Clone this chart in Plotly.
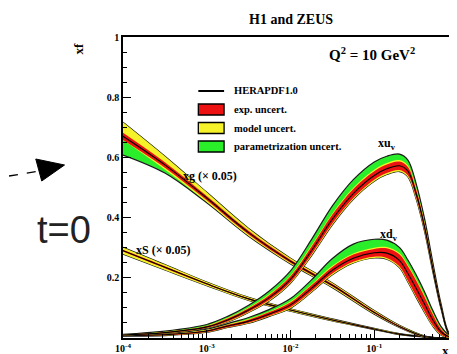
import plotly.graph_objects as go

W, H = 457, 354
L, R, T, B = 115, 4, 29, 24
PW, PH = W - L - R, H - T - B

# ---------------- data ----------------
lx_g = [-4, -3.5, -3, -2.5, -2, -1.5, -1, -0.7, -0.4, -0.2, 0]
xg = [0.67, 0.575, 0.465, 0.35, 0.255, 0.175, 0.085, 0.038, 0.005, 0, 0]
g_exp = [0.012, 0.009, 0.007, 0.006, 0.005, 0.004, 0.003, 0.002, 0.001, 0, 0]
g_mod_up = [0.035, 0.02, 0.012, 0.008, 0.005, 0.004, 0.003, 0.002, 0.001, 0, 0]
g_mod_dn = [0.0, 0.006, 0.006, 0.005, 0.003, 0.003, 0.002, 0.001, 0.001, 0, 0]
g_par_up = [0, 0, 0, 0, 0, 0, 0, 0, 0, 0, 0]
g_par_dn = [0.05, 0.012, 0.003, 0.001, 0.001, 0.001, 0.001, 0, 0, 0, 0]

lx_s = [-4, -3.5, -3, -2.5, -2, -1.5, -1, -0.7, -0.4, -0.2, 0]
xs = [0.29, 0.235, 0.18, 0.13, 0.093, 0.06, 0.03, 0.013, 0.004, 0, 0]
s_exp = [0.003, 0.003, 0.002, 0.002, 0.002, 0.0015, 0.001, 0.001, 0.0005, 0, 0]
s_mod = [0.008, 0.006, 0.004, 0.003, 0.002, 0.002, 0.001, 0.001, 0, 0, 0]
s_par = [0, 0, 0, 0, 0, 0, 0, 0, 0, 0, 0]

lx_v = [-4, -3.5, -3, -2.75, -2.5, -2.25, -2, -1.75, -1.5, -1.25, -1,
        -0.85, -0.7, -0.6, -0.5, -0.4, -0.3, -0.2, -0.1, 0]
xuv = [0.01, 0.018, 0.037, 0.06, 0.093, 0.135, 0.195, 0.29, 0.395, 0.48, 0.54,
       0.562, 0.572, 0.555, 0.48, 0.37, 0.23, 0.1, 0.01, 0]
u_exp = [0.001, 0.002, 0.003, 0.005, 0.006, 0.008, 0.01, 0.013, 0.015, 0.015, 0.014,
         0.014, 0.014, 0.014, 0.013, 0.011, 0.008, 0.004, 0.001, 0]
u_mod = [0.0005, 0.001, 0.001, 0.002, 0.002, 0.003, 0.003, 0.004, 0.004, 0.004, 0.005,
         0.005, 0.005, 0.005, 0.005, 0.004, 0.003, 0.002, 0.001, 0]
u_par = [0.001, 0.002, 0.004, 0.005, 0.008, 0.011, 0.015, 0.02, 0.025, 0.027, 0.026,
         0.023, 0.02, 0.018, 0.015, 0.012, 0.009, 0.005, 0.002, 0]

xdv = [0.008, 0.011, 0.023, 0.04, 0.056, 0.08, 0.11, 0.165, 0.225, 0.265, 0.283,
       0.282, 0.258, 0.215, 0.165, 0.113, 0.06, 0.02, 0.003, 0]
d_exp = [0.001, 0.002, 0.003, 0.004, 0.005, 0.006, 0.008, 0.01, 0.011, 0.012, 0.013,
         0.016, 0.02, 0.024, 0.026, 0.024, 0.018, 0.009, 0.002, 0]
d_mod = [0.0005, 0.001, 0.001, 0.001, 0.002, 0.002, 0.003, 0.003, 0.004, 0.004, 0.004,
         0.004, 0.004, 0.004, 0.004, 0.004, 0.003, 0.002, 0.001, 0]
d_par = [0.001, 0.001, 0.002, 0.003, 0.005, 0.007, 0.01, 0.015, 0.024, 0.031, 0.028,
         0.023, 0.019, 0.017, 0.015, 0.013, 0.01, 0.006, 0.002, 0]

x_tickvals = [1e-4, 1e-3, 1e-2, 1e-1, 1]
x_ticktext = ["10<sup>-4</sup>", "10<sup>-3</sup>", "10<sup>-2</sup>", "10<sup>-1</sup>", "1"]
y_tickvals = [0.2, 0.4, 0.6, 0.8, 1]
y_ticktext = ["0.2", "0.4", "0.6", "0.8", "1"]

legend_labels = ["HERAPDF1.0", "exp. uncert.", "model uncert.", "parametrization uncert."]

RED = "#ee1111"
YEL = "#f6f22a"
GRN = "#2bee2b"
SERIF = "Liberation Serif"

fig = go.Figure()


def pair(xv, lo, hi, color, outline):
    lw = 1.2 if outline else 0
    lc = "#1a1a1a" if outline else color
    fig.add_trace(go.Scatter(x=xv, y=lo, mode="lines",
                             line=dict(color=lc, width=lw, shape="spline"),
                             hoverinfo="skip", showlegend=False))
    fig.add_trace(go.Scatter(x=xv, y=hi, mode="lines", fill="tonexty", fillcolor=color,
                             line=dict(color=lc, width=lw, shape="spline"),
                             hoverinfo="skip", showlegend=False))


def pdf(lx, c, e, mu, md, pu, pd):
    xv = [10 ** v for v in lx]
    r_lo = [a - b for a, b in zip(c, e)]
    r_hi = [a + b for a, b in zip(c, e)]
    y_lo = [a - b for a, b in zip(r_lo, md)]
    y_hi = [a + b for a, b in zip(r_hi, mu)]
    g_lo = [a - b for a, b in zip(y_lo, pd)]
    g_hi = [a + b for a, b in zip(y_hi, pu)]
    pair(xv, g_lo, g_hi, GRN, True)
    pair(xv, y_lo, y_hi, YEL, False)
    pair(xv, r_lo, r_hi, RED, False)
    fig.add_trace(go.Scatter(x=xv, y=c, mode="lines",
                             line=dict(color="black", width=1.1, shape="spline"),
                             hoverinfo="skip", showlegend=False))


zeros_v = [0] * len(lx_v)
pdf(lx_s, xs, s_exp, s_mod, s_mod, s_par, s_par)
pdf(lx_g, xg, g_exp, g_mod_up, g_mod_dn, g_par_up, g_par_dn)
pdf(lx_v, xdv, d_exp, d_mod, d_mod, d_par, zeros_v)
pdf(lx_v, xuv, u_exp, u_mod, u_mod, u_par, zeros_v)


def px(xp):
    return (xp - L) / PW


def py(yp):
    return (H - B - yp) / PH


ann = []


def text(t, xp, yp, size, xanchor="center", family=SERIF, bold=True, color="black", angle=0):
    ann.append(dict(text=t, x=px(xp), y=py(yp), xref="paper", yref="paper",
                    xanchor=xanchor, yanchor="middle", showarrow=False, textangle=angle,
                    font=dict(family=family, size=size, color=color,
                              weight="bold" if bold else "normal")))


text("H1 and ZEUS", 284, 12, 14)
text("Q<sup>2</sup> = 10 GeV<sup>2</sup>", 366, 46, 15)
text("xf", 70, 40, 13, angle=-90)
text("x", 440, 342, 13)
text("xg (× 0.05)", 203, 168, 12)
text("xS (× 0.05)", 156, 242, 12)
text("xu<sub>v</sub>", 381, 136, 12)
text("xd<sub>v</sub>", 383, 227, 12)
text("t=0", 55, 222, 38, family="Liberation Sans", bold=False, color="#222222")

shapes = []
rows = [83, 101.5, 120, 138.5]
fills = [None, RED, YEL, GRN]
for lab, yr, fc in zip(legend_labels, rows, fills):
    if fc is None:
        shapes.append(dict(type="line", xref="paper", yref="paper", x0=px(191), x1=px(217),
                           y0=py(yr), y1=py(yr), line=dict(color="black", width=2)))
    else:
        shapes.append(dict(type="rect", xref="paper", yref="paper", x0=px(191), x1=px(217),
                           y0=py(yr - 5.5), y1=py(yr + 5.5), fillcolor=fc,
                           line=dict(color="black", width=1.3)))
    text(lab, 225, yr, 10.5, xanchor="left")

# arrow pointing at the plot
shapes.append(dict(type="line", xref="paper", yref="paper", x0=px(0), y0=py(168),
                   x1=px(31), y1=py(163), line=dict(color="black", width=1.3, dash="dash")))
shapes.append(dict(type="path", xref="paper", yref="paper",
                   path=f"M {px(56)} {py(157)} L {px(27)} {py(151)} L {px(33)} {py(173)} Z",
                   fillcolor="black", line=dict(color="black", width=1)))

minor_x = [k * 10 ** e for e in range(-4, 0) for k in range(2, 10)]

fig.update_layout(
    width=W, height=H,
    margin=dict(l=L, r=R, t=T, b=B),
    paper_bgcolor="white", plot_bgcolor="white",
    showlegend=False,
    annotations=ann, shapes=shapes,
    xaxis=dict(type="log", range=[-4, 0], showline=True, linecolor="black", linewidth=1.5,
               mirror=True, ticks="inside", ticklen=8, tickwidth=1.2, tickcolor="black",
               tickvals=x_tickvals, ticktext=x_ticktext, showgrid=False, zeroline=False,
               ticklabeloverflow="allow",
               tickfont=dict(family=SERIF, size=10, color="black", weight="bold"),
               minor=dict(tickvals=minor_x, ticks="inside", ticklen=4, tickwidth=1,
                          tickcolor="black", showgrid=False)),
    yaxis=dict(range=[0, 1], showline=True, linecolor="black", linewidth=1.5,
               mirror=True, ticks="inside", ticklen=8, tickwidth=1.2, tickcolor="black",
               tickvals=y_tickvals, ticktext=y_ticktext, showgrid=False, zeroline=False,
               tickfont=dict(family=SERIF, size=10, color="black", weight="bold"),
               minor=dict(dtick=0.05, ticks="inside", ticklen=4, tickwidth=1,
                          tickcolor="black", showgrid=False)),
)

fig.write_html("out.html")
